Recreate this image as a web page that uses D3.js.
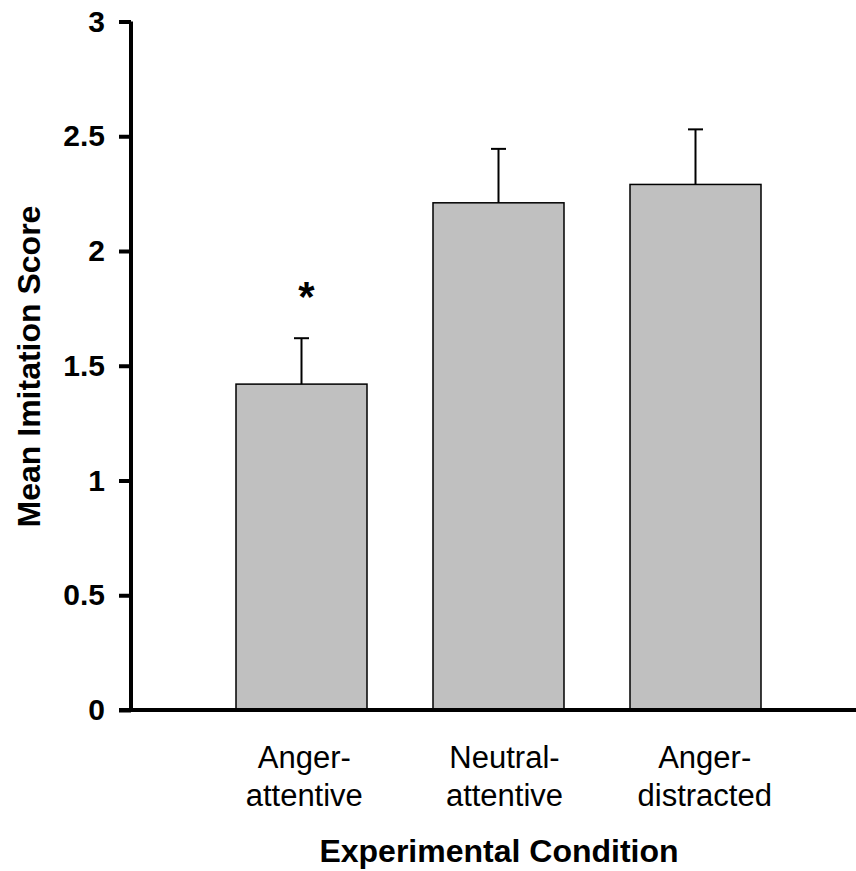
<!DOCTYPE html>
<html>
<head>
<meta charset="utf-8">
<script src="https://cdn.jsdelivr.net/npm/d3@7"></script>
<style>
  body { margin: 0; background: #fff; }
  text { font-family: "Liberation Sans", Arial, Helvetica, sans-serif; }
</style>
</head>
<body>
<svg id="chart" width="856" height="871"></svg>
<script>
const categories = [["Anger-", "attentive"], ["Neutral-", "attentive"], ["Anger-", "distracted"]];
const means = [1.42, 2.21, 2.29];
const errors = [0.20, 0.235, 0.24];
const significant = [true, false, false];
const yTicks = [0, 0.5, 1, 1.5, 2, 2.5, 3];

const svg = d3.select("#chart");
const x0 = 131, yBottom = 710, yTop = 21.5;

const y = d3.scaleLinear().domain([0, 3]).range([yBottom, yTop]);
const x = d3.scaleBand()
  .domain(categories.map((d, i) => i))
  .range([x0, 866])
  .paddingInner(0.335)
  .paddingOuter(0.533);

// label positions (slightly wider spread than the bars, as in the original)
const xl = d3.scaleBand()
  .domain(categories.map((d, i) => i))
  .range([x0, 866 + 12])
  .paddingInner(0.335)
  .paddingOuter(0.533);

// bars
svg.append("g").selectAll("rect").data(means).join("rect")
  .attr("x", (d, i) => x(i))
  .attr("y", d => y(d))
  .attr("width", x.bandwidth())
  .attr("height", d => yBottom - y(d))
  .attr("fill", "#c0c0c0")
  .attr("stroke", "#000")
  .attr("stroke-width", 1.5);

// error bars
const eg = svg.append("g").attr("stroke", "#000").attr("stroke-width", 2);
means.forEach((m, i) => {
  const cx = x(i) + x.bandwidth() / 2;
  eg.append("line").attr("x1", cx).attr("x2", cx).attr("y1", y(m)).attr("y2", y(m + errors[i]));
  eg.append("line").attr("x1", cx - 7.5).attr("x2", cx + 7.5).attr("y1", y(m + errors[i])).attr("y2", y(m + errors[i]));
});

// significance star
svg.append("g").selectAll("text").data(means.map((m, i) => ({m, i})).filter(d => significant[d.i])).join("text")
  .attr("x", d => x(d.i) + x.bandwidth() / 2 + 5)
  .attr("y", d => y(d.m + errors[d.i]) - 27)
  .attr("text-anchor", "middle")
  .attr("font-size", 42)
  .attr("font-weight", "bold")
  .text("*");

// y axis
const yAxis = d3.axisLeft(y).tickValues(yTicks).tickFormat(d3.format("")).tickSize(12).tickPadding(14);
const ga = svg.append("g").attr("transform", `translate(${x0},0)`).call(yAxis);
ga.select(".domain").attr("stroke-width", 4).attr("d", `M0,${yTop}V${yBottom}`);
ga.selectAll(".tick line").attr("stroke-width", 4);
ga.selectAll(".tick text").attr("font-size", 30).attr("font-weight", "bold").attr("fill", "#000")
  .attr("font-family", "'Liberation Sans', Arial, sans-serif");

// x axis line
svg.append("line").attr("x1", x0 - 12).attr("x2", 856).attr("y1", yBottom).attr("y2", yBottom)
  .attr("stroke", "#000").attr("stroke-width", 4);

// category labels
const cl = svg.append("g").selectAll("text").data(categories).join("text")
  .attr("x", (d, i) => xl(i) + xl.bandwidth() / 2)
  .attr("y", 768)
  .attr("text-anchor", "middle")
  .attr("font-size", 31);
cl.selectAll("tspan").data(d => d).join("tspan")
  .attr("x", function() { return d3.select(this.parentNode).attr("x"); })
  .attr("dy", (d, j) => j === 0 ? 0 : 38)
  .text(d => d);

// axis titles
svg.append("text").attr("x", 499).attr("y", 862).attr("text-anchor", "middle")
  .attr("font-size", 32).attr("font-weight", "bold").text("Experimental Condition");
svg.append("text").attr("transform", "translate(40,366.5) rotate(-90)").attr("text-anchor", "middle")
  .attr("font-size", 32).attr("font-weight", "bold").text("Mean Imitation Score");
</script>
</body>
</html>
